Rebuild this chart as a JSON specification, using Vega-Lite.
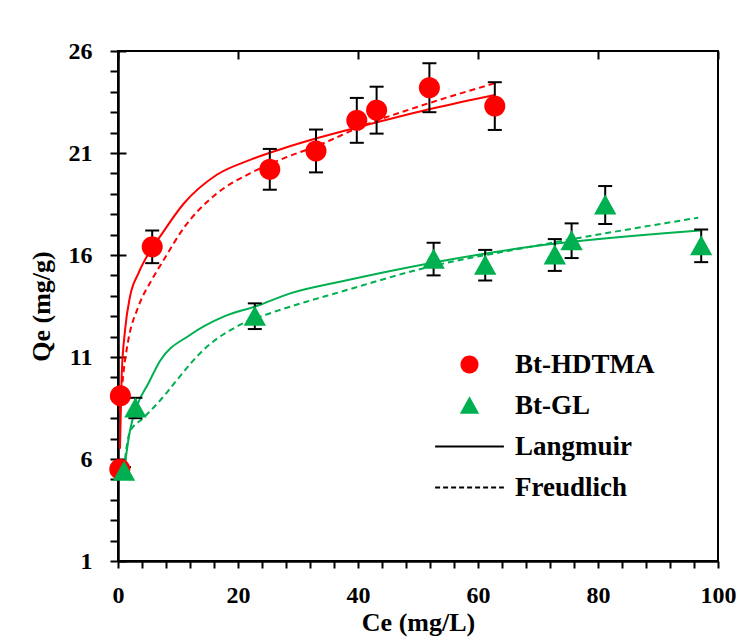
{
  "$schema": "https://vega.github.io/schema/vega-lite/v6.json",
  "width": 600,
  "height": 510,
  "autosize": "none",
  "padding": {"left": 118, "top": 51, "right": 34, "bottom": 76},
  "background": "white",
  "config": {
    "view": {"stroke": "black", "strokeWidth": 2},
    "font": "Liberation Serif",
    "axis": {
      "domainColor": "black",
      "domainWidth": 2.5,
      "tickColor": "black",
      "tickWidth": 2,
      "gridColor": "black",
      "gridWidth": 2,
      "gridDash": [8, 2000],
      "labelFont": "Liberation Serif",
      "labelFontWeight": "bold",
      "labelFontSize": 24,
      "labelColor": "black",
      "titleFont": "Liberation Serif",
      "titleFontWeight": "bold",
      "titleFontSize": 26,
      "titleColor": "black",
      "labelFlush": false,
      "labelOverlap": false
    }
  },
  "datasets": {
    "curves": [
      {"sample": "Bt-HDTMA", "model": "Langmuir", "ce": 0.33, "qe": 6.5},
      {"sample": "Bt-HDTMA", "model": "Langmuir", "ce": 0.6, "qe": 10.0},
      {"sample": "Bt-HDTMA", "model": "Langmuir", "ce": 1.17, "qe": 12.3},
      {"sample": "Bt-HDTMA", "model": "Langmuir", "ce": 2.0, "qe": 13.96},
      {"sample": "Bt-HDTMA", "model": "Langmuir", "ce": 3.4, "qe": 15.1},
      {"sample": "Bt-HDTMA", "model": "Langmuir", "ce": 5.1, "qe": 16.08},
      {"sample": "Bt-HDTMA", "model": "Langmuir", "ce": 7.0, "qe": 16.9},
      {"sample": "Bt-HDTMA", "model": "Langmuir", "ce": 10.9, "qe": 18.5},
      {"sample": "Bt-HDTMA", "model": "Langmuir", "ce": 16.4, "qe": 19.92},
      {"sample": "Bt-HDTMA", "model": "Langmuir", "ce": 22.0, "qe": 20.66},
      {"sample": "Bt-HDTMA", "model": "Langmuir", "ce": 27.6, "qe": 21.23},
      {"sample": "Bt-HDTMA", "model": "Langmuir", "ce": 33.1, "qe": 21.72},
      {"sample": "Bt-HDTMA", "model": "Langmuir", "ce": 41.4, "qe": 22.37},
      {"sample": "Bt-HDTMA", "model": "Langmuir", "ce": 52.6, "qe": 23.19},
      {"sample": "Bt-HDTMA", "model": "Langmuir", "ce": 62.8, "qe": 23.84},
      {"sample": "Bt-HDTMA", "model": "Freudlich", "ce": 0.33, "qe": 8.3},
      {"sample": "Bt-HDTMA", "model": "Freudlich", "ce": 0.9, "qe": 10.2},
      {"sample": "Bt-HDTMA", "model": "Freudlich", "ce": 1.7, "qe": 11.8},
      {"sample": "Bt-HDTMA", "model": "Freudlich", "ce": 3.4, "qe": 13.47},
      {"sample": "Bt-HDTMA", "model": "Freudlich", "ce": 5.6, "qe": 14.77},
      {"sample": "Bt-HDTMA", "model": "Freudlich", "ce": 7.6, "qe": 15.75},
      {"sample": "Bt-HDTMA", "model": "Freudlich", "ce": 10.9, "qe": 17.3},
      {"sample": "Bt-HDTMA", "model": "Freudlich", "ce": 16.4, "qe": 19.0},
      {"sample": "Bt-HDTMA", "model": "Freudlich", "ce": 22.0, "qe": 20.0},
      {"sample": "Bt-HDTMA", "model": "Freudlich", "ce": 27.6, "qe": 20.74},
      {"sample": "Bt-HDTMA", "model": "Freudlich", "ce": 33.1, "qe": 21.34},
      {"sample": "Bt-HDTMA", "model": "Freudlich", "ce": 41.4, "qe": 22.4},
      {"sample": "Bt-HDTMA", "model": "Freudlich", "ce": 50.0, "qe": 23.27},
      {"sample": "Bt-HDTMA", "model": "Freudlich", "ce": 62.8, "qe": 24.42},
      {"sample": "Bt-GL", "model": "Langmuir", "ce": 1.0, "qe": 5.4},
      {"sample": "Bt-GL", "model": "Langmuir", "ce": 2.0, "qe": 7.4},
      {"sample": "Bt-GL", "model": "Langmuir", "ce": 3.1, "qe": 8.56},
      {"sample": "Bt-GL", "model": "Langmuir", "ce": 5.05, "qe": 9.7},
      {"sample": "Bt-GL", "model": "Langmuir", "ce": 7.0, "qe": 10.8},
      {"sample": "Bt-GL", "model": "Langmuir", "ce": 12.0, "qe": 12.08},
      {"sample": "Bt-GL", "model": "Langmuir", "ce": 17.6, "qe": 12.98},
      {"sample": "Bt-GL", "model": "Langmuir", "ce": 23.1, "qe": 13.5},
      {"sample": "Bt-GL", "model": "Langmuir", "ce": 28.7, "qe": 14.12},
      {"sample": "Bt-GL", "model": "Langmuir", "ce": 37.0, "qe": 14.69},
      {"sample": "Bt-GL", "model": "Langmuir", "ce": 52.0, "qe": 15.6},
      {"sample": "Bt-GL", "model": "Langmuir", "ce": 68.7, "qe": 16.4},
      {"sample": "Bt-GL", "model": "Langmuir", "ce": 97.0, "qe": 17.2},
      {"sample": "Bt-GL", "model": "Freudlich", "ce": 1.0, "qe": 5.5},
      {"sample": "Bt-GL", "model": "Freudlich", "ce": 1.5, "qe": 6.7},
      {"sample": "Bt-GL", "model": "Freudlich", "ce": 2.0, "qe": 7.34},
      {"sample": "Bt-GL", "model": "Freudlich", "ce": 4.2, "qe": 8.0},
      {"sample": "Bt-GL", "model": "Freudlich", "ce": 7.7, "qe": 9.1},
      {"sample": "Bt-GL", "model": "Freudlich", "ce": 9.2, "qe": 9.65},
      {"sample": "Bt-GL", "model": "Freudlich", "ce": 14.8, "qe": 11.5},
      {"sample": "Bt-GL", "model": "Freudlich", "ce": 20.3, "qe": 12.57},
      {"sample": "Bt-GL", "model": "Freudlich", "ce": 25.9, "qe": 13.2},
      {"sample": "Bt-GL", "model": "Freudlich", "ce": 31.4, "qe": 13.71},
      {"sample": "Bt-GL", "model": "Freudlich", "ce": 36.0, "qe": 14.1},
      {"sample": "Bt-GL", "model": "Freudlich", "ce": 52.0, "qe": 15.43},
      {"sample": "Bt-GL", "model": "Freudlich", "ce": 68.7, "qe": 16.4},
      {"sample": "Bt-GL", "model": "Freudlich", "ce": 96.7, "qe": 17.83}
    ],
    "points": [
      {"sample": "Bt-HDTMA", "ce": 0.3, "qe": 5.5, "lo": 5.3, "hi": 5.7},
      {"sample": "Bt-HDTMA", "ce": 0.4, "qe": 9.1, "lo": 8.9, "hi": 9.3},
      {"sample": "Bt-HDTMA", "ce": 5.7, "qe": 16.4, "lo": 15.6, "hi": 17.2},
      {"sample": "Bt-HDTMA", "ce": 25.3, "qe": 20.2, "lo": 19.2, "hi": 21.2},
      {"sample": "Bt-HDTMA", "ce": 33.0, "qe": 21.1, "lo": 20.05, "hi": 22.15},
      {"sample": "Bt-HDTMA", "ce": 39.8, "qe": 22.6, "lo": 21.5, "hi": 23.7},
      {"sample": "Bt-HDTMA", "ce": 43.1, "qe": 23.1, "lo": 21.95, "hi": 24.25},
      {"sample": "Bt-HDTMA", "ce": 51.9, "qe": 24.2, "lo": 23.0, "hi": 25.4},
      {"sample": "Bt-HDTMA", "ce": 62.8, "qe": 23.3, "lo": 22.13, "hi": 24.47},
      {"sample": "Bt-GL", "ce": 1.0, "qe": 5.4, "lo": 5.2, "hi": 5.6},
      {"sample": "Bt-GL", "ce": 2.9, "qe": 8.5, "lo": 8.0, "hi": 9.0},
      {"sample": "Bt-GL", "ce": 22.8, "qe": 13.0, "lo": 12.37, "hi": 13.63},
      {"sample": "Bt-GL", "ce": 52.6, "qe": 15.8, "lo": 15.0, "hi": 16.6},
      {"sample": "Bt-GL", "ce": 61.2, "qe": 15.5, "lo": 14.75, "hi": 16.25},
      {"sample": "Bt-GL", "ce": 72.8, "qe": 16.0, "lo": 15.22, "hi": 16.78},
      {"sample": "Bt-GL", "ce": 75.6, "qe": 16.7, "lo": 15.85, "hi": 17.55},
      {"sample": "Bt-GL", "ce": 81.2, "qe": 18.45, "lo": 17.52, "hi": 19.38},
      {"sample": "Bt-GL", "ce": 97.2, "qe": 16.45, "lo": 15.65, "hi": 17.25}
    ]
  },
  "encoding": {
    "x": {"field": "ce", "type": "quantitative", "scale": {"domain": [0, 100], "nice": false, "zero": false},
      "axis": {"title": "Ce (mg/L)", "orient": "bottom",
        "values": [0, 4, 8, 12, 16, 20, 24, 28, 32, 36, 40, 44, 48, 52, 56, 60, 64, 68, 72, 76, 80, 84, 88, 92, 96, 100],
        "labelExpr": "datum.value % 20 === 0 ? datum.label : ''",
        "grid": true,
        "gridOpacity": {"condition": {"test": "datum.value % 20 === 0", "value": 1}, "value": 0},
        "tickSize": 7, "labelPadding": 15, "titlePadding": 2}},
    "y": {"field": "qe", "type": "quantitative", "scale": {"domain": [1, 26], "nice": false, "zero": false},
      "axis": {"title": "Qe (mg/g)", "orient": "left",
        "values": [1, 2, 3, 4, 5, 6, 7, 8, 9, 10, 11, 12, 13, 14, 15, 16, 17, 18, 19, 20, 21, 22, 23, 24, 25, 26],
        "labelExpr": "datum.value % 5 === 1 ? datum.label : ''",
        "grid": true,
        "gridOpacity": {"condition": {"test": "datum.value % 5 === 1", "value": 1}, "value": 0},
        "tickSize": 8, "labelPadding": 18, "titlePadding": 14}}
  },
  "layer": [
    {
      "data": {"name": "curves"},
      "transform": [{"filter": "datum.sample === 'Bt-HDTMA' && datum.model === 'Langmuir'"}],
      "mark": {"type": "line", "color": "#ff0000", "strokeWidth": 2, "interpolate": "monotone"}
    },
    {
      "data": {"name": "curves"},
      "transform": [{"filter": "datum.sample === 'Bt-HDTMA' && datum.model === 'Freudlich'"}],
      "mark": {"type": "line", "color": "#ff0000", "strokeWidth": 2, "strokeDash": [6, 4], "interpolate": "monotone"}
    },
    {
      "data": {"name": "curves"},
      "transform": [{"filter": "datum.sample === 'Bt-GL' && datum.model === 'Langmuir'"}],
      "mark": {"type": "line", "color": "#00b050", "strokeWidth": 2, "interpolate": "monotone"}
    },
    {
      "data": {"name": "curves"},
      "transform": [{"filter": "datum.sample === 'Bt-GL' && datum.model === 'Freudlich'"}],
      "mark": {"type": "line", "color": "#00b050", "strokeWidth": 2, "strokeDash": [6, 4], "interpolate": "monotone"}
    },
    {
      "data": {"name": "points"},
      "mark": {"type": "rule", "color": "black", "strokeWidth": 2},
      "encoding": {
        "y": {"field": "lo", "type": "quantitative"},
        "y2": {"field": "hi"}
      }
    },
    {
      "data": {"name": "points"},
      "mark": {"type": "tick", "orient": "horizontal", "color": "black", "size": 14, "thickness": 2, "opacity": 1},
      "encoding": {
        "y": {"field": "lo", "type": "quantitative"}
      }
    },
    {
      "data": {"name": "points"},
      "mark": {"type": "tick", "orient": "horizontal", "color": "black", "size": 14, "thickness": 2, "opacity": 1},
      "encoding": {
        "y": {"field": "hi", "type": "quantitative"}
      }
    },
    {
      "data": {"name": "points"},
      "mark": {"type": "point", "filled": true, "opacity": 1, "strokeWidth": 2},
      "encoding": {
        "size": {"value": 361},
        "fill": {"field": "sample", "type": "nominal",
          "scale": {"domain": ["Bt-HDTMA", "Bt-GL", "Langmuir", "Freudlich"], "range": ["#ff0000", "#00b050", "black", "black"]},
          "legend": {"orient": "none", "legendX": 338, "legendY": 300, "title": null, "padding": 0,
            "labelFont": "Liberation Serif", "labelFontSize": 27, "labelFontWeight": "bold", "labelColor": "black",
            "labelLimit": 400, "labelOffset": 32, "symbolSize": 256, "symbolStrokeWidth": 2, "rowPadding": 13}},
        "stroke": {"field": "sample", "type": "nominal",
          "scale": {"domain": ["Bt-HDTMA", "Bt-GL", "Langmuir", "Freudlich"], "range": ["#ff0000", "#00b050", "black", "black"]}},
        "shape": {"field": "sample", "type": "nominal",
          "scale": {"domain": ["Bt-HDTMA", "Bt-GL", "Langmuir", "Freudlich"], "range": ["circle", "M0,-0.9L1,0.9L-1,0.9Z", "M-4.3,0H4.3", "M-4.3,0H4.3"]}},
        "strokeDash": {"field": "sample", "type": "nominal",
          "scale": {"domain": ["Bt-HDTMA", "Bt-GL", "Langmuir", "Freudlich"], "range": [[1, 0], [1, 0], [1, 0], [5, 3]]}}
      }
    }
  ]
}
